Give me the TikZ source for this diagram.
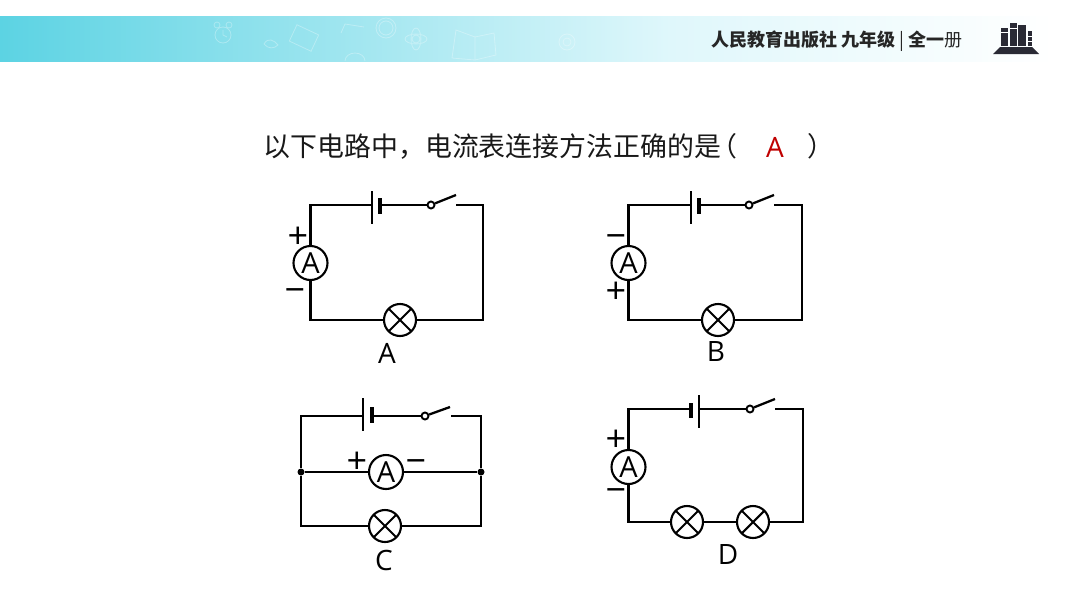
\documentclass[tikz,border=0pt]{standalone}
\usepackage{fontspec}
\setmainfont{Open Sans}
\newfontfamily\cjk{Noto Sans CJK SC}
\usepackage{tikz}
\definecolor{bandleft}{HTML}{5CD3E3}
\definecolor{bandmid}{HTML}{DFF7FB}
\definecolor{logodark}{HTML}{2A2A35}
\definecolor{answerred}{HTML}{C00000}
\tikzset{
	wire/.style={line width=2.3pt},
	thickplate/.style={line width=3.4pt},
	ammeter/.style={circle,draw,line width=2.1pt,minimum size=34pt,inner sep=0pt,font=\fontsize{29}{29}\selectfont},
	lamp/.style={circle,draw,line width=2.1pt,minimum size=32pt,inner sep=0pt,path picture={\draw[line width=2.1pt] (path picture bounding box.north west) -- (path picture bounding box.south east) (path picture bounding box.north east) -- (path picture bounding box.south west);}},
	contact/.style={circle,draw,line width=1.9pt,fill=white,minimum size=7pt,inner sep=0pt},
	junction/.style={circle,fill,minimum size=7pt,inner sep=0pt},
	sign/.style={inner sep=0pt,anchor=base,yshift=-12pt,font=\fontsize{36}{36}\selectfont},
	letter/.style={inner sep=0pt,font=\fontsize{28}{28}\selectfont},
	headline/.style={anchor=west,inner sep=0pt,font={\cjk\fontsize{26.9}{27}\selectfont\color{black!90}}},
	icon/.style={draw=white,line width=0.8pt,opacity=0.3}
}
\begin{document}
\begin{tikzpicture}[x=1pt,y=-1pt]
		\useasboundingbox (0,0) rectangle (1066,600);
		\fill[white] (0,0) rectangle (1066,600);
		\fill[left color=bandleft,right color=bandmid] (0,16) rectangle (670,61);
		\fill[left color=bandmid,right color=white] (669,16) rectangle (1053,61);
		\begin{scope}[icon]
			\draw (223,35) circle (8);
			\draw (217,25) circle (3) (229,25) circle (3);
			\draw (223,30) -- (223,35) -- (227,37);
			\draw (264,44) .. controls (268,37) and (274,40) .. (278,45) .. controls (274,49) and (268,49) .. (264,44);
			\draw[rotate around={-25:(304,38)}] (292,29) rectangle (316,47);
			\draw (341,33) -- (345,24) -- (364,27);
			\draw (386,28) circle (10) (386,28) circle (7);
			\draw (416,39) circle (4) (416,39) ellipse (11 and 5) (416,39) ellipse (5 and 11);
			\draw (456,30) -- (475,37) -- (475,60) -- (452,58) -- cycle;
			\draw (475,37) -- (494,33) -- (496,55) -- (475,60);
			\draw (345,61) arc (180:360:10 and 8);
			\draw (567,42) circle (8) (567,42) circle (4);
		\end{scope}
		\node[anchor=west,inner sep=0pt,font={\cjk\fontsize{18}{18}\selectfont\color{black!85}}] (publisher) at (711,41) {\bfseries 人民教育出版社 九年级 {\mdseries |} 全一{\mdseries 册}};
		\fill[logodark] (1000,47) -- (1032,47) -- (1039,54) -- (993,54) -- cycle;
		\fill[logodark] (1001,28) rectangle (1008,46);
		\fill[logodark] (1010,23) rectangle (1017,46);
		\fill[logodark] (1018,25) rectangle (1026,46);
		\fill[logodark] (1028,31) rectangle (1032,46);
		\draw[white,line width=0.8pt] (1001,32) -- (1008,32) (1010,28) -- (1017,28) (1028,36) -- (1032,36) (1028,41) -- (1032,41);
		\node[headline] (title) at (263.5,146.5) {以下电路中\symbol{"FF0C}电流表连接方法正确的是};
		\node[headline] (opening) at (710,146.5) {\symbol{"FF08}};
		\node[letter,text=answerred] (answer) at (775,147.5) {A};
		\node[headline] (closing) at (807,146.5) {\symbol{"FF09}};
		\node[ammeter] (ama) at (310.5,263) {A};
		\node[lamp] (lpa) at (400,320) {};
		\node[contact] (swa) at (431,205) {};
		\coordinate (lga) at (372,205);
		\coordinate (sha) at (380,205);
		\coordinate (opa) at (456,205);
		\coordinate (cra) at (483,205);
		\draw[wire] (lga) -| (ama);
		\draw[wire] (ama) |- (lpa);
		\draw[wire] (lpa) -| (cra) -- (opa);
		\draw[wire] (sha) -- (swa);
		\draw[wire] (swa) -- (456,195);
		\draw[wire] (372,191) -- (372,224);
		\draw[thickplate] (380,198) -- (380,214);
		\node[sign] (pla) at (298,236) {+};
		\node[sign] (mia) at (295,290) {−};
		\node[letter] (laba) at (387,353) {A};
		\node[ammeter] (amb) at (628.5,263) {A};
		\node[lamp] (lpb) at (718,320) {};
		\node[contact] (swb) at (749,205) {};
		\coordinate (lgb) at (691,205);
		\coordinate (shb) at (699,205);
		\coordinate (opb) at (774,205);
		\coordinate (crb) at (802,205);
		\draw[wire] (lgb) -| (amb);
		\draw[wire] (amb) |- (lpb);
		\draw[wire] (lpb) -| (crb) -- (opb);
		\draw[wire] (shb) -- (swb);
		\draw[wire] (swb) -- (774,195);
		\draw[wire] (691,191) -- (691,224);
		\draw[thickplate] (699,198) -- (699,214);
		\node[sign] (mib) at (616,236) {−};
		\node[sign] (plb) at (616,291) {+};
		\node[letter] (labb) at (716,352) {B};
		\node[ammeter] (amc) at (386,472) {A};
		\node[lamp] (lpc) at (385,526) {};
		\node[contact] (swc) at (425,416) {};
		\node[junction] (jla) at (301,472) {};
		\node[junction] (jra) at (481,472) {};
		\coordinate (lgc) at (363,416);
		\coordinate (shc) at (372,416);
		\coordinate (opc) at (451,416);
		\coordinate (crc) at (481,416);
		\draw[wire] (lgc) -| (jla);
		\draw[wire] (jla) |- (lpc);
		\draw[wire] (lpc) -| (jra);
		\draw[wire] (jra) -- (crc) -- (opc);
		\draw[wire] (jla) -- (amc);
		\draw[wire] (amc) -- (jra);
		\draw[wire] (shc) -- (swc);
		\draw[wire] (swc) -- (450,407);
		\draw[wire] (363,398) -- (363,431);
		\draw[thickplate] (372,407) -- (372,423);
		\node[sign] (plc) at (357,461) {+};
		\node[sign] (mic) at (416,461) {−};
		\node[letter] (labc) at (384,560) {C};
		\node[ammeter] (amd) at (628.5,467) {A};
		\node[lamp] (lpd) at (687,522) {};
		\node[lamp] (lpe) at (753,522) {};
		\node[contact] (swd) at (750,409) {};
		\coordinate (shd) at (691,409);
		\coordinate (lgd) at (699,409);
		\coordinate (opd) at (775,409);
		\coordinate (crd) at (803,409);
		\draw[wire] (shd) -| (amd);
		\draw[wire] (amd) |- (lpd);
		\draw[wire] (lpd) -- (lpe);
		\draw[wire] (lpe) -| (crd) -- (opd);
		\draw[wire] (lgd) -- (swd);
		\draw[wire] (swd) -- (775,399);
		\draw[wire] (699,395) -- (699,428);
		\draw[thickplate] (691,403) -- (691,418);
		\node[sign] (pld) at (616,439) {+};
		\node[sign] (mid) at (616,490) {−};
		\node[letter] (labd) at (728,554) {D};
\end{tikzpicture}
\end{document}
